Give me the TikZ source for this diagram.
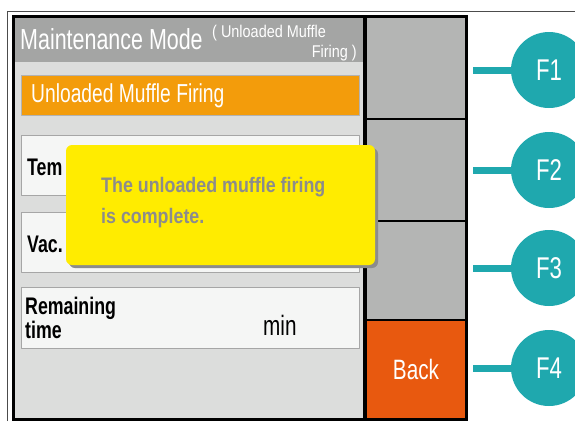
\documentclass[tikz,border=0pt]{standalone}
\usepackage{fontspec}
\setmainfont{Liberation Sans}
\newfontfamily\cond{Liberation Sans}[FakeStretch=0.74]
\newfontfamily\popfont{Liberation Sans}[FakeStretch=0.85]
\definecolor{titlegray}{HTML}{A4A5A4}
\definecolor{panelgray}{HTML}{DCDDDC}
\definecolor{barorange}{HTML}{F39C0B}
\definecolor{btngray}{HTML}{B4B5B4}
\definecolor{backorange}{HTML}{E8590F}
\definecolor{keyteal}{HTML}{1FA8AE}
\definecolor{popyellow}{HTML}{FFEC00}
\definecolor{rowwhite}{HTML}{F5F6F5}
\definecolor{poptext}{HTML}{8C8C8C}
\usetikzlibrary{positioning}
\tikzset{
  fbtn/.style={rectangle,fill=btngray,inner sep=0pt,minimum width=98pt},
  fkey/.style={circle,fill=keyteal,minimum size=76pt,inner sep=0pt,text=white,font=\cond\fontsize{30}{30}\selectfont},
  valrow/.style={rectangle,fill=rowwhite,draw=black!35,line width=0.8pt,inner sep=0pt,minimum width=338pt,minimum height=60pt},
  lbl/.style={anchor=base west,inner sep=0pt,font=\cond\bfseries\fontsize{24}{24}\selectfont,align=left}
}
\begin{document}
\begin{tikzpicture}[x=1pt,y=-1pt,line cap=butt,line join=round]
        \useasboundingbox (0,0) rectangle (575,421);
        \begin{scope}
        \clip (0,0) rectangle (575,421);
        % outer frame
        \draw[color=black!70,line width=1pt] (7,421) -- (7,11) -- (575,11);
        % screen
        \fill[black] (12,15) rectangle (468,421);
        \fill[panelgray] (15,18) rectangle (363,418);
        \fill[titlegray] (15,18) rectangle (363,62);
        \node[anchor=base west,inner sep=0pt,text=white,font=\cond\fontsize{29}{29}\selectfont] (title) at (20,49) {Maintenance Mode};
        \node[anchor=base west,inner sep=0pt,text=white,font=\popfont\fontsize{17}{17}\selectfont] (sub1) at (212,37) {( Unloaded Muffle};
        \node[anchor=base east,inner sep=0pt,text=white,font=\popfont\fontsize{17}{17}\selectfont] (sub2) at (357,57) {Firing )};
        % program bar
        \node[rectangle,fill=barorange,draw=black!30,line width=0.6pt,inner sep=0pt,minimum width=338pt,minimum height=40pt] (bar) at (190,95) {};
        \node[anchor=base west,inner sep=0pt,text=white,font=\cond\fontsize{26}{26}\selectfont] (bartxt) at (31,102) {Unloaded Muffle Firing};
        % value rows
        \node[valrow] (r1) at (190,165) {};
        \node[valrow] (r2) at (190,242) {};
        \node[valrow,minimum height=61pt] (r3) at (190,317.5) {};
        \node[lbl] (temp) at (27,175) {Tem};
        \node[lbl] (vac) at (27,252) {Vac.};
        \node[lbl,font=\cond\bfseries\fontsize{24}{21}\selectfont] (rem) at (25,338) {Remaining\\time};
        \node[anchor=base west,inner sep=0pt,font=\cond\fontsize{28}{28}\selectfont] (min) at (263,335) {min};
        % function buttons and keys
        \foreach \i/\yt/\yb/\yk in {1/18/118/70,2/120/220/170,3/222/319/268}
        {
          \node[fbtn,minimum height=\yb-\yt] (b\i) at (416,{(\yt+\yb)/2}) {};
          \coordinate (s\i) at (473,\yk);
          \node[fkey] (f\i) at (549,\yk) {F\i};
          \draw[keyteal,line width=7pt] (s\i) -- (f\i);
        }
        \node[fbtn,fill=backorange,minimum height=97pt,text=white,font=\cond\fontsize{28}{28}\selectfont] (back) at (416,369.5) {Back};
        \coordinate (s4) at (473,368);
        \node[fkey] (f4) at (549,368) {F4};
        \draw[keyteal,line width=7pt] (s4) -- (f4);
        % message box
        \fill[black!45,rounded corners=6pt] (69,148) rectangle (378,268);
        \node[rectangle,rounded corners=6pt,fill=popyellow,inner sep=0pt,minimum width=309pt,minimum height=120pt] (msg) at (220.5,205) {};
        \node[anchor=base west,inner sep=0pt,text=poptext,font=\popfont\bfseries\fontsize{21}{31}\selectfont,align=left] (msgtxt) at (101,223) {The unloaded muffle firing\\is complete.};
        \end{scope}
\end{tikzpicture}
\end{document}
